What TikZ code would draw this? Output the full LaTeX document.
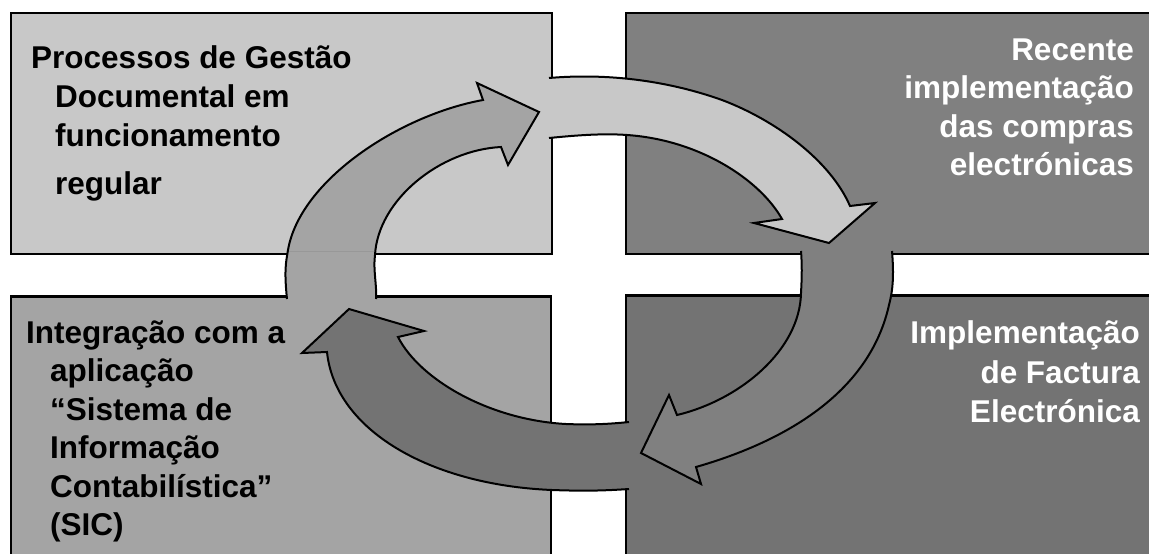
\documentclass[tikz,border=0pt]{standalone}
\usepackage{fontspec}
\newfontfamily\lab{Liberation Sans}
\definecolor{cA}{HTML}{C8C8C8}
\definecolor{cB}{HTML}{808080}
\definecolor{cC}{HTML}{A4A4A4}
\definecolor{cD}{HTML}{737373}
\definecolor{seam}{HTML}{989898}
\tikzset{
  quad/.style={draw=black, line width=2.4pt},
  arr/.style={draw=black, line width=2pt, line join=miter},
  txt/.style={inner sep=0pt, font=\lab\bfseries\fontsize{31.5}{38}\selectfont},
  ltxt/.style={txt, anchor=base west, text=black},
  rtxt/.style={txt, anchor=base east, text=white}
}
\begin{document}
\begin{tikzpicture}[x=1pt, y=-1pt]
\useasboundingbox (0,0) rectangle (1149,554);
\begin{scope}
\clip (0,0) rectangle (1149,554);
% quadrants
\path[quad, fill=cA] (11,13) rectangle (552,254);
\path[quad, fill=cB] (626,13) rectangle (1170,254);
\path[quad, fill=cC] (11,296.5) rectangle (551,580);
\path[quad, fill=cD] (626,295.5) rectangle (1170,580);
% arrow 1 : from lower left up into upper left
\path[arr, fill=cC] (287,299) .. controls (284,270) and (286,262) .. (288,250)
  .. controls (300,180) and (400,115) .. (483,100)
  -- (477,83) -- (539,112) -- (508,165) -- (501,147)
  .. controls (440,150) and (378,200) .. (375,255)
  .. controls (373,270) and (377,285) .. (376,299);
\draw[seam, line width=0.6pt] (288.5,251) -- (374,251);
% arrow 2 : from upper left into upper right
\path[arr, fill=cA] (549,78) .. controls (620,72) and (680,85) .. (722,100)
  .. controls (775,120) and (830,160) .. (850,206)
  -- (875,203) -- (829,243) -- (754,223) -- (782,219)
  .. controls (760,180) and (700,140) .. (627,135)
  .. controls (600,133) and (570,136) .. (549,138);
% arrow 3 : from upper right down into lower right
\path[arr, fill=cB] (892,251) .. controls (894,275) and (893,290) .. (889,305)
  .. controls (870,390) and (790,440) .. (696,467)
  -- (701,484) -- (641,453) -- (669,395) -- (677,415)
  .. controls (740,400) and (800,350) .. (801,293)
  .. controls (802,275) and (802,265) .. (801,251);
% arrow 4 : from lower right into lower left
\path[arr, fill=cD] (629,489) .. controls (600,491) and (580,491) .. (552,490)
  .. controls (430,485) and (335,430) .. (327,352)
  -- (302,353) -- (349,309) -- (424,331) -- (398,337)
  .. controls (420,380) and (490,420) .. (566,424)
  .. controls (590,425) and (610,424) .. (629,422);
\end{scope}
% texts
\node[ltxt] (tl1) at (31,68) {Processos de Gestão};
\node[ltxt] (tl2) at (55,107) {Documental em};
\node[ltxt] (tl3) at (55,146) {funcionamento};
\node[ltxt] (tl4) at (55,194) {regular};
\node[rtxt] (tr1) at (1134,60) {Recente};
\node[rtxt] (tr2) at (1134,98) {implementação};
\node[rtxt] (tr3) at (1134,137) {das compras};
\node[rtxt] (tr4) at (1134,175) {electrónicas};
\node[rtxt] (br1) at (1140,343) {Implementação};
\node[rtxt] (br2) at (1140,383) {de Factura};
\node[rtxt] (br3) at (1140,422) {Electrónica};
\node[ltxt] (bl1) at (26,343) {Integração com a};
\node[ltxt] (bl2) at (50,381) {aplicação};
\node[ltxt] (bl3) at (50,420) {“Sistema de};
\node[ltxt] (bl4) at (50,458) {Informação};
\node[ltxt] (bl5) at (50,497) {Contabilística”};
\node[ltxt] (bl6) at (50,535) {(SIC)};
\end{tikzpicture}
\end{document}
